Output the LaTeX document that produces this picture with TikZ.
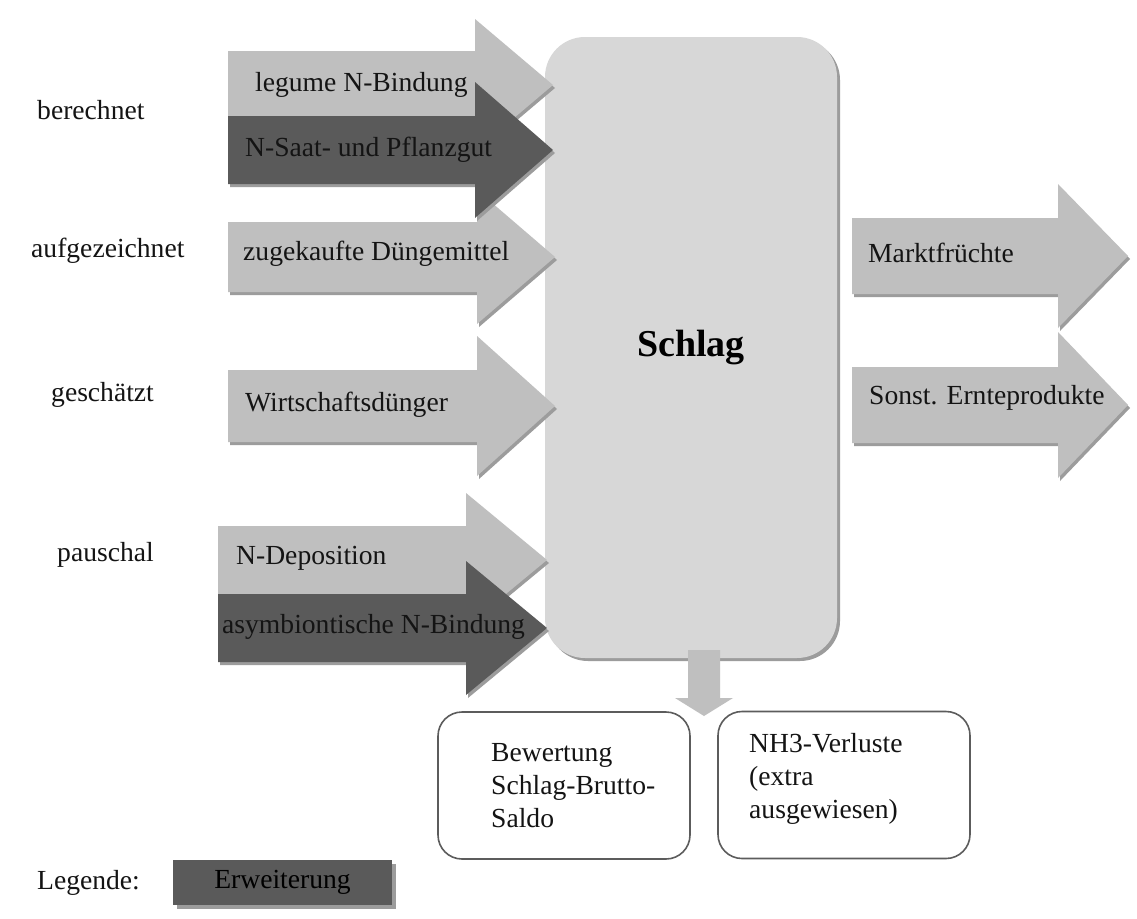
\documentclass[tikz,border=0pt]{standalone}
\usepackage{fontspec}
\setmainfont{Liberation Serif}
\usetikzlibrary{shadows}
\definecolor{lightarrow}{HTML}{BFBFBF}
\definecolor{darkarrow}{HTML}{5A5A5A}
\definecolor{boxfill}{HTML}{D7D7D7}
\definecolor{shadowc}{HTML}{9C9C9C}
\definecolor{linec}{HTML}{5C5C5C}
\newcommand\flowarrow[7]{%
  \fill[shadowc,shift={(2,3)}] ({#1},{#4-#5}) -- ({#2},{#4-#5}) -- ({#2},{#4-#6}) -- ({#3},{#4}) -- ({#2},{#4+#6}) -- ({#2},{#4+#5}) -- ({#1},{#4+#5}) -- cycle;
  \fill[#7] ({#1},{#4-#5}) -- ({#2},{#4-#5}) -- ({#2},{#4-#6}) -- ({#3},{#4}) -- ({#2},{#4+#6}) -- ({#2},{#4+#5}) -- ({#1},{#4+#5}) -- cycle;}
\tikzset{
  lbl/.style={anchor=west, inner sep=0pt, text=black!92},
  schlagbox/.style={rectangle, rounded corners=40pt, fill=boxfill, minimum width=292pt, minimum height=621pt,
    drop shadow={shadow xshift=3pt, shadow yshift=-3pt, fill=shadowc, opacity=1}},
  outbox/.style={rectangle, rounded corners=24pt, draw=linec, line width=1.6pt, fill=white, minimum width=252pt, minimum height=147pt},
  legbox/.style={rectangle, fill=darkarrow, minimum width=219pt, minimum height=45pt, inner sep=0pt,
    drop shadow={shadow xshift=4pt, shadow yshift=-4pt, fill=shadowc, opacity=1}},
}
\begin{document}
\begin{tikzpicture}[x=1pt,y=-1pt,font=\fontsize{27.6}{33}\selectfont]
\useasboundingbox[fill=white] (0,0) rectangle (1137,918);
% Schlag box
\node[schlagbox] (schlag) at (691,347.5) {\fontsize{38}{44}\selectfont\bfseries Schlag};
% input arrows (light first, dark over them)
\flowarrow{228}{477}{555}{257}{35}{67}{lightarrow}
\flowarrow{228}{475}{553}{85}{34}{66}{lightarrow}
\flowarrow{228}{475}{553}{150}{34}{68}{darkarrow}
\flowarrow{228}{477}{555}{406}{36}{70}{lightarrow}
\flowarrow{218}{466}{547}{560}{34}{67}{lightarrow}
\flowarrow{218}{466}{547}{628}{34}{67}{darkarrow}
% output arrows
\flowarrow{852}{1058}{1128}{256}{38}{72}{lightarrow}
\flowarrow{852}{1058}{1128}{405}{38}{73}{lightarrow}
% arrow labels
\node[lbl] (t1) at (255,85) {legume N-Bindung};
\node[lbl] (t2) at (245,150) {N-Saat- und Pflanzgut};
\node[lbl] (t3) at (243,254) {zugekaufte Düngemittel};
\node[lbl] (t4) at (245,405) {Wirtschaftsdünger};
\node[lbl] (t5) at (236,558) {N-Deposition};
\node[lbl] (t6) at (222,627) {asymbiontische N-Bindung};
\node[lbl] (t7) at (868,253) {Marktfrüchte};
\node[lbl] (t8) at (869,398) {Sonst. Ernteprodukte};
% category labels
\node[lbl] (c1) at (37,110) {berechnet};
\node[lbl] (c2) at (31,251) {aufgezeichnet};
\node[lbl] (c3) at (51,395) {geschätzt};
\node[lbl] (c4) at (57,555) {pauschal};
% down arrow
\coordinate (dtop) at (704,650);
\fill[lightarrow] (dtop) ++(-16,0) -- ++(32,0) -- ++(0,48) -- ++(13,0) -- ++(-29,18) -- ++(-29,-18) -- ++(13,0) -- cycle;
% output boxes
\node[outbox] (bew) at (564,785.5) {};
\node[outbox] (nh3) at (844,785) {};
\node[lbl, align=left] (bewt) at (491,786) {Bewertung\\Schlag-Brutto-\\Saldo};
\node[lbl, align=left] (nh3t) at (749,779) {NH3-Verluste\\(extra\\ausgewiesen)};
% legend
\node[lbl] (legt) at (37,883) {Legende:};
\node[legbox] (leg) at (282.5,882.5) {Erweiterung};
\end{tikzpicture}
\end{document}
